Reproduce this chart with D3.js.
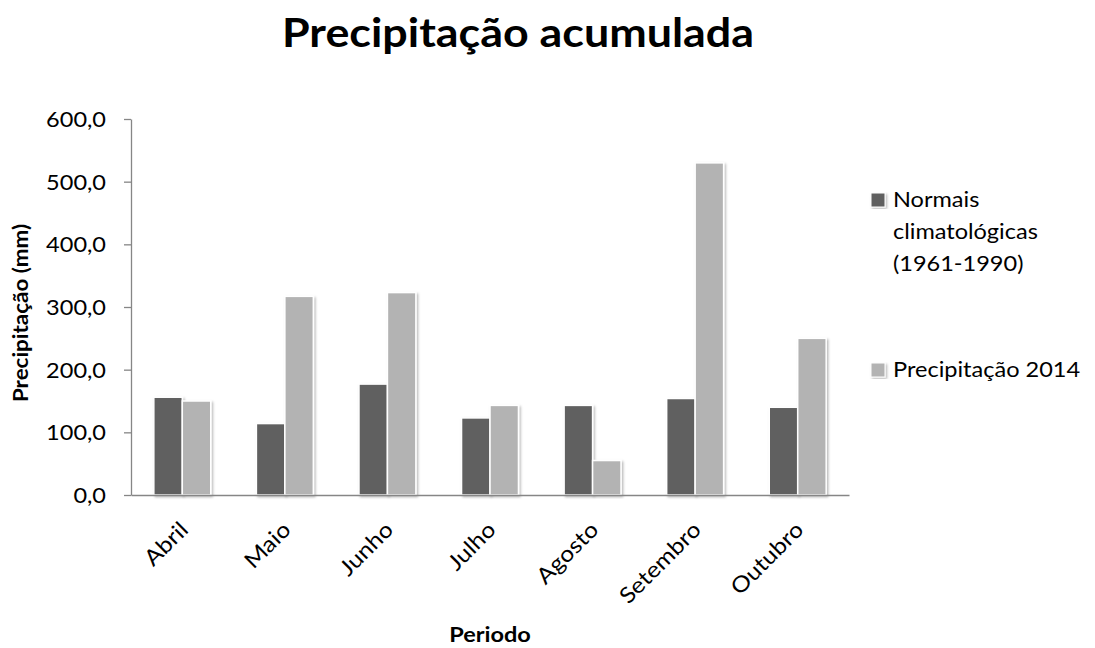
<!DOCTYPE html>
<html>
<head>
<meta charset="utf-8">
<script src="https://cdn.jsdelivr.net/npm/d3@7"></script>
<style>
  html, body { margin: 0; padding: 0; background: #ffffff; }
  svg { display: block; }
  text { font-family: Lato, "Open Sans", sans-serif; fill: #000; }
</style>
</head>
<body>
<svg id="chart" width="1095" height="648"></svg>
<script>
// Monthly accumulated precipitation (mm)
const months = ["Abril", "Maio", "Junho", "Julho", "Agosto", "Setembro", "Outubro"];
const normais = [156, 114, 177, 123, 143, 154, 140];
const precip2014 = [150, 317, 323, 143, 55, 530, 250];
const seriesNames = ["Normais climatológicas (1961-1990)", "Precipitação 2014"];
const legendLines = [["Normais", "climatológicas", "(1961-1990)"], ["Precipitação 2014"]];
const yTicks = [0, 100, 200, 300, 400, 500, 600];

const colors = ["#616161", "#b3b3b3"];
const svg = d3.select("#chart");
const plot = { left: 131, right: 849, top: 119, bottom: 495 };
const SX = 1.12; // horizontal widening of glyphs

// shadow for bars
const defs = svg.append("defs");
const f = defs.append("filter").attr("id", "shadow")
  .attr("x", "-20%").attr("y", "-5%").attr("width", "150%").attr("height", "115%");
f.append("feDropShadow").attr("dx", 1.5).attr("dy", 1.5)
  .attr("stdDeviation", 1.2).attr("flood-color", "#000").attr("flood-opacity", 0.28);

const ptBR = d3.formatLocale({ decimal: ",", thousands: ".", grouping: [3], currency: ["R$", ""] });
const fmt = ptBR.format(".1f");

const x = d3.scaleBand().domain(months).range([plot.left, plot.right])
  .paddingInner(0.445).paddingOuter(0.2225);
const xs = d3.scaleBand().domain([0, 1]).range([0, x.bandwidth()]);
const y = d3.scaleLinear().domain([0, 600]).range([plot.bottom, plot.top]);

function widen(sel) {
  sel.each(function () {
    const len = this.getComputedTextLength();
    d3.select(this).attr("textLength", len * SX).attr("lengthAdjust", "spacingAndGlyphs");
  });
}

// bars
const rows = months.map((m, i) => ({ m, vals: [normais[i], precip2014[i]] }));
const g = svg.append("g");
g.selectAll("g.cat").data(rows).join("g")
  .attr("class", "cat")
  .attr("transform", d => `translate(${x(d.m)},0)`)
  .selectAll("rect").data(d => d.vals.map((v, k) => ({ v, k })))
  .join("rect")
  .attr("x", d => xs(d.k))
  .attr("y", d => y(d.v))
  .attr("width", xs.bandwidth())
  .attr("height", d => y(0) - y(d.v))
  .attr("fill", d => colors[d.k])
  .attr("stroke", "#ffffff")
  .attr("stroke-width", 1.5)
  .attr("filter", "url(#shadow)");

// y axis
const yAxis = svg.append("g").attr("transform", `translate(${plot.left},0)`)
  .call(d3.axisLeft(y).tickValues(yTicks).tickFormat(fmt).tickSize(7).tickSizeOuter(0).tickPadding(18));
yAxis.select(".domain").attr("stroke", "#868686").attr("stroke-width", 1.3);
yAxis.selectAll(".tick line").attr("stroke", "#868686").attr("stroke-width", 1.3);
yAxis.selectAll(".tick text").attr("font-family", "Lato").attr("font-size", 21)
  .attr("fill", "#000").attr("dy", "0.36em").call(widen);

// x axis baseline
const xAxis = svg.append("g").attr("transform", `translate(0,${plot.bottom})`)
  .call(d3.axisBottom(x).tickSize(0).tickSizeOuter(0).tickFormat(""));
xAxis.select(".domain").attr("stroke", "#868686").attr("stroke-width", 1.3);

// rotated month labels
svg.append("g").selectAll("text").data(months).join("text")
  .attr("transform", d => `translate(${x(d) + x.bandwidth() / 2 - 4},${plot.bottom + 25}) rotate(-45)`)
  .attr("text-anchor", "end")
  .attr("dy", "0.72em")
  .attr("font-size", 22)
  .text(d => d)
  .call(widen);

// title
svg.append("text").attr("x", 518).attr("y", 47).attr("text-anchor", "middle")
  .attr("font-size", 40).attr("font-weight", 700).text("Precipitação acumulada").call(widen);

// axis titles
svg.append("text").attr("transform", `translate(28,${(plot.top + plot.bottom) / 2 + 6}) rotate(-90)`)
  .attr("text-anchor", "middle").attr("font-size", 20).attr("font-weight", 700)
  .text("Precipitação (mm)").call(widen);
svg.append("text").attr("x", (plot.left + plot.right) / 2).attr("y", 642).attr("text-anchor", "middle")
  .attr("font-size", 21).attr("font-weight", 700).text("Periodo").call(widen);

// legend
const legendTops = [193, 363];
const lg = svg.append("g").selectAll("g").data(seriesNames).join("g")
  .attr("transform", (d, i) => `translate(871,${legendTops[i]})`);
lg.append("rect").attr("width", 14).attr("height", 14)
  .attr("fill", (d, i) => colors[i]).attr("stroke", "#ffffff").attr("stroke-width", 1)
  .attr("filter", "url(#shadow)");
lg.each(function (d, i) {
  d3.select(this).selectAll("text").data(legendLines[i]).join("text")
    .attr("x", 22).attr("y", (t, j) => 14 + j * 32)
    .attr("font-size", 21).text(t => t).call(widen);
});
</script>
</body>
</html>
